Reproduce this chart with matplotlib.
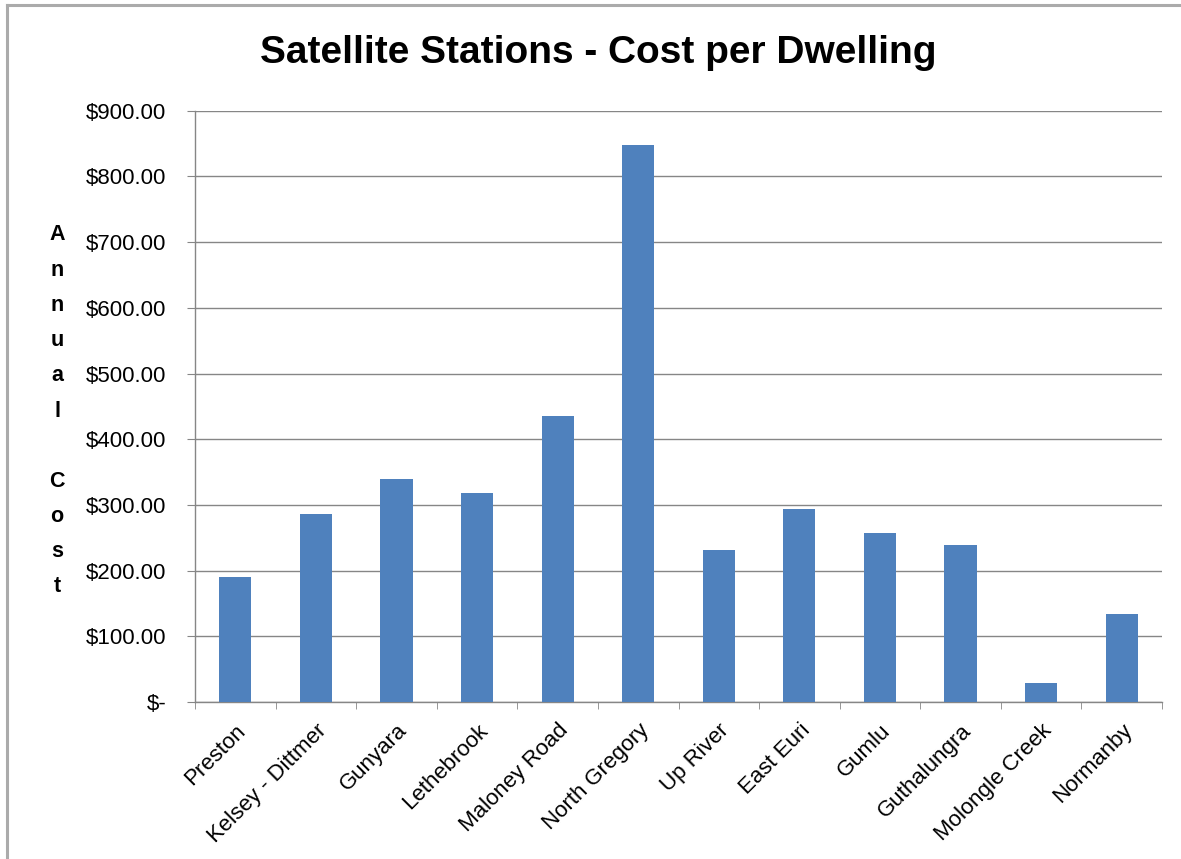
import matplotlib
matplotlib.use("Agg")
import matplotlib.pyplot as plt
from matplotlib.lines import Line2D
from matplotlib.ticker import FuncFormatter, MultipleLocator, FixedLocator
from matplotlib import font_manager
import numpy as np

stations = ["Preston", "Kelsey - Dittmer", "Gunyara", "Lethebrook", "Maloney Road",
            "North Gregory", "Up River", "East Euri", "Gumlu", "Guthalungra",
            "Molongle Creek", "Normanby"]
annual_cost = [190, 286, 339, 318, 436, 848, 232, 293, 257, 239, 29, 134]

title = "Satellite Stations - Cost per Dwelling"
ylabel = "Annual Cost"

plt.rcParams['font.family'] = ['Liberation Sans', 'DejaVu Sans']

installed = {f.name for f in font_manager.fontManager.ttflist}
if "Liberation Sans Narrow" in installed:
    title_family, title_size = ["Liberation Sans Narrow", "Liberation Sans"], 34
else:
    title_family, title_size = ["Liberation Sans", "DejaVu Sans"], 28

W, H = 1181, 859
fig = plt.figure(figsize=(W / 100, H / 100), dpi=100)
ax = fig.add_axes([195 / W, 1 - 702 / H, (1162 - 195) / W, (702 - 110.7) / H])

grid_col = "#868686"
x = np.arange(len(stations))
ax.bar(x, annual_cost, width=0.4, color="#4F81BD", zorder=3)

ax.set_xlim(-0.5, len(stations) - 0.5)
ax.set_ylim(0, 900)
ax.yaxis.set_major_locator(MultipleLocator(100))
ax.yaxis.set_major_formatter(FuncFormatter(lambda v, p: "$-" if v == 0 else f"${v:,.2f}"))
ax.grid(axis="y", color=grid_col, linewidth=1.0, zorder=0)

for side in ("top", "right"):
    ax.spines[side].set_visible(False)
for side in ("left", "bottom"):
    ax.spines[side].set_color(grid_col)
    ax.spines[side].set_linewidth(1.0)

ax.tick_params(axis="y", length=5.8, color=grid_col, labelsize=16, pad=15)
ax.set_xticks(x)
ax.set_xticklabels(stations, rotation=45, ha="right", rotation_mode="anchor",
                   fontsize=16)
ax.tick_params(axis="x", length=0, pad=13)
ax.xaxis.set_minor_locator(FixedLocator(np.arange(-0.5, len(stations), 1.0)))
ax.tick_params(axis="x", which="minor", length=5, color=grid_col)

fig.text(598 / W, 1 - 53 / H, title, ha="center", va="center",
         fontsize=title_size, fontweight="bold", family=title_family)

# stacked vertical axis title
y0, step = 235, 35.2
for i, ch in enumerate(ylabel):
    if ch != " ":
        fig.text(57 / W, 1 - (y0 + i * step) / H, ch, ha="center", va="center",
                 fontsize=15.5, fontweight="bold")

# outer frame of the chart area
frame_col = "#ABABAB"
fig.add_artist(Line2D([7 / W, 1], [1 - 5 / H, 1 - 5 / H], color=frame_col, lw=2.2))
fig.add_artist(Line2D([7 / W, 7 / W], [0, 1 - 5 / H], color=frame_col, lw=2.2))

fig.savefig("out.png", dpi=100)
